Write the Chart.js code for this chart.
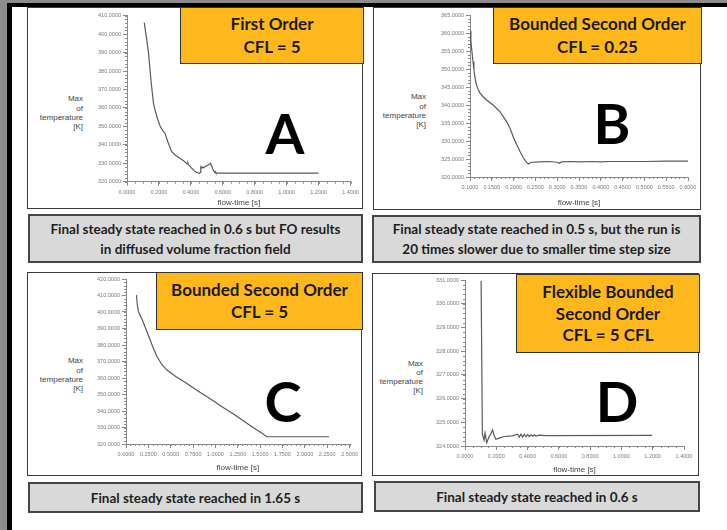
<!DOCTYPE html>
<html>
<head>
<meta charset="utf-8">
<script src="https://cdn.jsdelivr.net/npm/chart.js@4.4.1/dist/chart.umd.min.js"></script>
<style>
  html, body { margin: 0; padding: 0; }
  body { width: 727px; height: 530px; position: relative; overflow: hidden; background: #fff; font-family: "Liberation Sans", Arial, sans-serif; }
  .abs { position: absolute; box-sizing: border-box; }
  .frame { background: #fff; border: 1px solid #3a3a3a; }
  .tag { background: #ffb81c; border: 1px solid #333; display: flex; align-items: center; justify-content: center; text-align: center;
         font-family: Lato, "Open Sans", sans-serif; font-weight: 700; font-size: 17px; line-height: 22.5px; color: #1a1a1a; z-index: 3; }
  .note { background: #d9d9d9; border: 2px solid #454545; display: flex; align-items: center; justify-content: center; text-align: center;
          font-family: Lato, "Open Sans", sans-serif; font-weight: 700; font-size: 13.5px; line-height: 20px; color: #1e1e1e; }
  .big { font-family: Lato, "Open Sans", sans-serif; font-weight: 700; font-size: 56px; line-height: 56px; color: #000; transform: translate(-50%, -50%); z-index: 3; }
  .ytitle { font-family: "Liberation Sans", Arial, sans-serif; font-size: 8px; line-height: 9.3px; color: #444; text-align: right; }
  canvas { position: absolute; z-index: 2; }
</style>
</head>
<body>
<!-- outer frame strips -->
<div class="abs" style="left:0;top:0;width:727px;height:3px;background:#8c8c8c"></div>
<div class="abs" style="left:0;top:0;width:7px;height:530px;background:#8c8c8c"></div>
<div class="abs" style="left:7px;top:3px;width:720px;height:4px;background:#000"></div>
<div class="abs" style="left:7px;top:3px;width:5px;height:527px;background:#000"></div>

<!-- panel frames -->
<div class="abs frame" style="left:27px;top:7px;width:336px;height:202px"></div>
<div class="abs frame" style="left:373px;top:7px;width:328px;height:203px"></div>
<div class="abs frame" style="left:27px;top:272px;width:335px;height:204px"></div>
<div class="abs frame" style="left:372px;top:273px;width:327px;height:203px"></div>

<canvas id="chartA"></canvas>
<canvas id="chartB"></canvas>
<canvas id="chartC"></canvas>
<canvas id="chartD"></canvas>

<!-- y-axis titles -->
<div class="abs ytitle" style="right:644px;top:94.3px">Max<br>of<br>temperature<br>[K]</div>
<div class="abs ytitle" style="right:301px;top:92.3px">Max<br>of<br>temperature<br>[K]</div>
<div class="abs ytitle" style="right:644px;top:356.3px">Max<br>of<br>temperature<br>[K]</div>
<div class="abs ytitle" style="right:304px;top:358.5px">Max<br>of<br>temperature<br>[K]</div>

<!-- scheme labels -->
<div class="abs tag" style="left:180px;top:7px;width:184px;height:57px">First Order<br>CFL = 5</div>
<div class="abs tag" style="left:493px;top:7px;width:209px;height:57px">Bounded Second Order<br>CFL = 0.25</div>
<div class="abs tag" style="left:156px;top:272px;width:207px;height:58px">Bounded Second Order<br>CFL = 5</div>
<div class="abs tag" style="left:516px;top:274px;width:184px;height:79px;line-height:21.7px">Flexible Bounded<br>Second Order<br>CFL = 5 CFL</div>

<div class="abs big" style="left:285px;top:133px">A</div>
<div class="abs big" style="left:612px;top:123px">B</div>
<div class="abs big" style="left:283px;top:401px">C</div>
<div class="abs big" style="left:617px;top:401px">D</div>

<!-- conclusions -->
<div class="abs note" style="left:28px;top:214px;width:335px;height:49px">Final steady state reached in 0.6 s but FO results<br>in diffused volume fraction field</div>
<div class="abs note" style="left:372px;top:215px;width:329px;height:48px">Final steady state reached in 0.5 s, but the run is<br>20 times slower due to smaller time step size</div>
<div class="abs note" style="left:28px;top:482px;width:335px;height:31px">Final steady state reached in 1.65 s</div>
<div class="abs note" style="left:374px;top:481px;width:326px;height:31px">Final steady state reached in 0.6 s</div>

<script>
// ---- A: First Order, CFL = 5 ----
const timeA = [0.108, 0.122, 0.135, 0.150, 0.165, 0.170, 0.187, 0.207, 0.225, 0.238, 0.259, 0.280, 0.305, 0.332, 0.360, 0.376, 0.381, 0.386, 0.392,
               0.400, 0.420, 0.435, 0.452, 0.458, 0.462, 0.468, 0.475, 0.481, 0.490, 0.500, 0.508, 0.515, 0.522, 0.528, 0.535, 0.542, 0.549,
               0.553, 0.556, 0.562, 1.200];
const tempA = [406.2, 398.0, 389.6, 375.0, 363.0, 360.7, 355.2, 350.2, 347.5, 346.2, 340.8, 336.3, 334.2, 332.7, 331.0, 329.6, 330.2, 329.0, 328.9,
               327.8, 326.0, 325.1, 324.5, 325.0, 328.1, 327.4, 328.0, 327.5, 328.3, 328.7, 329.1, 329.4, 330.0, 329.0, 327.3, 326.0, 325.1,
               325.4, 324.8, 324.6, 324.6];
const yTicksA = [320, 410, 10];
const xTicksA = [0, 1.4, 0.2];

// ---- B: Bounded Second Order, CFL = 0.25 ----
const timeB = [0.100, 0.102, 0.104, 0.107, 0.109, 0.112, 0.115, 0.119, 0.123, 0.130, 0.138, 0.153, 0.169, 0.184, 0.192, 0.199, 0.207, 0.215,
               0.222, 0.230, 0.234, 0.238, 0.242, 0.260, 0.280, 0.300, 0.305, 0.310, 0.330, 0.350, 0.380, 0.400, 0.420, 0.450, 0.480, 0.500, 0.550, 0.600];
const tempB = [360.6, 358.0, 355.3, 352.0, 349.7, 347.2, 345.6, 344.2, 343.3, 342.3, 341.4, 340.0, 338.1, 335.4, 333.5, 331.2, 329.0, 327.0,
               325.4, 324.0, 323.6, 323.9, 324.1, 324.2, 324.3, 324.1, 323.8, 324.2, 324.3, 324.2, 324.3, 324.2, 324.3, 324.3, 324.3, 324.3, 324.4, 324.4];
const yTicksB = [320, 365, 5];
const xTicksB = [0.1, 0.6, 0.05];

// ---- C: Bounded Second Order, CFL = 5 ----
const timeC = [0.117, 0.125, 0.139, 0.160, 0.183, 0.220, 0.256, 0.300, 0.348, 0.400, 0.458, 0.560, 0.677, 0.800, 0.933, 1.060, 1.189,
               1.300, 1.408, 1.500, 1.575, 2.270];
const tempC = [410.3, 405.0, 400.2, 397.8, 395.2, 390.0, 385.0, 378.8, 372.9, 368.2, 364.8, 360.8, 356.8, 352.3, 347.7, 343.0, 338.6,
               334.5, 330.5, 327.2, 324.4, 324.4];
const yTicksC = [320, 420, 10];
const xTicksC = [0, 2.5, 0.25];

// ---- D: Flexible Bounded Second Order, CFL = 5 ----
const timeD = [0.103, 0.111, 0.122, 0.128, 0.139, 0.154, 0.165, 0.176, 0.186, 0.197, 0.218, 0.251, 0.304, 0.336, 0.347, 0.358, 0.368, 0.379,
               0.390, 0.400, 0.411, 0.422, 0.433, 0.443, 0.454, 0.475, 0.518, 1.197];
const tempD = [330.97, 324.50, 324.25, 324.55, 324.14, 324.40, 324.50, 324.68, 324.45, 324.28, 324.33, 324.40, 324.43, 324.50, 324.38, 324.50,
               324.38, 324.49, 324.39, 324.48, 324.40, 324.47, 324.41, 324.47, 324.42, 324.46, 324.44, 324.45];
const yTicksD = [324, 331, 1];
const xTicksD = [0, 1.4, 0.2];

const AXIS = '#8a8a8a';
const LABEL = '#7a7a7a';

// small unlabelled ticks between the labelled ones
const minorTicks = {
  id: 'minorTicks',
  afterDraw(chart, args, opts) {
    const { ctx } = chart;
    const xs = chart.scales.x, ys = chart.scales.y;
    ctx.save();
    ctx.strokeStyle = AXIS;
    ctx.lineWidth = 1;
    ctx.beginPath();
    const nx = Math.round((xs.max - xs.min) / opts.xStep);
    for (let i = 0; i <= nx; i++) {
      const px = Math.round(xs.getPixelForValue(xs.min + i * opts.xStep)) + 0.5;
      ctx.moveTo(px, xs.top);
      ctx.lineTo(px, xs.top + 2);
    }
    const ny = Math.round((ys.max - ys.min) / opts.yStep);
    for (let i = 0; i <= ny; i++) {
      const py = Math.round(ys.getPixelForValue(ys.min + i * opts.yStep)) + 0.5;
      ctx.moveTo(ys.right, py);
      ctx.lineTo(ys.right - 2, py);
    }
    ctx.stroke();
    ctx.restore();
  }
};

// box = canvas rectangle, area = plot rectangle, titleY = centre line of the x-axis title (page pixels)
function drawPanel(id, box, area, titleY, xs, ys, xTicks, yTicks, minor) {
  const cv = document.getElementById(id);
  cv.style.left = box[0] + 'px';
  cv.style.top = box[1] + 'px';
  cv.style.width = box[2] + 'px';
  cv.style.height = box[3] + 'px';
  cv.width = box[2];
  cv.height = box[3];

  const yAxisW = 40;
  const titleFont = 8, titleLH = titleFont * 1.2;
  const axisBottom = titleY + titleLH / 2;
  const xAxisH = axisBottom - area[3];
  const pad = {
    left: area[0] - box[0] - yAxisW,
    top: area[1] - box[1],
    right: box[0] + box[2] - area[2],
    bottom: box[1] + box[3] - axisBottom
  };

  const points = xs.map((x, i) => ({ x, y: ys[i] }));
  const tickFont = { family: 'Liberation Sans', size: 5.5 };

  new Chart(cv, {
    type: 'scatter',
    data: {
      datasets: [{
        data: points,
        showLine: true,
        borderColor: '#5a5a5a',
        borderWidth: 1.2,
        pointRadius: 0,
        tension: 0
      }]
    },
    options: {
      responsive: false,
      animation: false,
      layout: { padding: pad },
      plugins: { legend: { display: false }, tooltip: { enabled: false }, minorTicks: minor },
      scales: {
        x: {
          type: 'linear',
          min: xTicks[0], max: xTicks[1],
          ticks: { stepSize: xTicks[2], autoSkip: false, maxRotation: 0, minRotation: 0, padding: 3,
                   color: LABEL, font: tickFont, callback: v => Number(v).toFixed(4) },
          grid: { drawOnChartArea: false, drawTicks: true, tickLength: 4, color: AXIS },
          border: { color: AXIS, width: 1 },
          title: { display: true, text: 'flow-time [s]', color: '#444', padding: 0,
                   font: { family: 'Liberation Sans', size: titleFont, lineHeight: 1.2 } },
          afterFit: s => { s.height = xAxisH; }
        },
        y: {
          type: 'linear',
          min: yTicks[0], max: yTicks[1],
          ticks: { stepSize: yTicks[2], autoSkip: false, padding: 2,
                   color: LABEL, font: tickFont, callback: v => Number(v).toFixed(4) },
          grid: { drawOnChartArea: false, drawTicks: true, tickLength: 4, color: AXIS },
          border: { color: AXIS, width: 1 },
          afterFit: s => { s.width = yAxisW; }
        }
      }
    },
    plugins: [minorTicks]
  });
}

drawPanel('chartA', [28, 8, 334, 200], [127, 15.7, 351.7, 181.7], 203, timeA, tempA, xTicksA, yTicksA, { xStep: 0.05, yStep: 2 });
drawPanel('chartB', [374, 8, 326, 201], [470, 15, 688, 177], 203, timeB, tempB, xTicksB, yTicksB, { xStep: 0.01, yStep: 1 });
drawPanel('chartC', [28, 273, 333, 202], [126, 279, 352.7, 444], 468, timeC, tempC, xTicksC, yTicksC, { xStep: 0.05, yStep: 2 });
drawPanel('chartD', [373, 274, 325, 201], [465, 280, 684, 446], 470, timeD, tempD, xTicksD, yTicksD, { xStep: 0.05, yStep: 0.2 });
</script>
</body>
</html>
